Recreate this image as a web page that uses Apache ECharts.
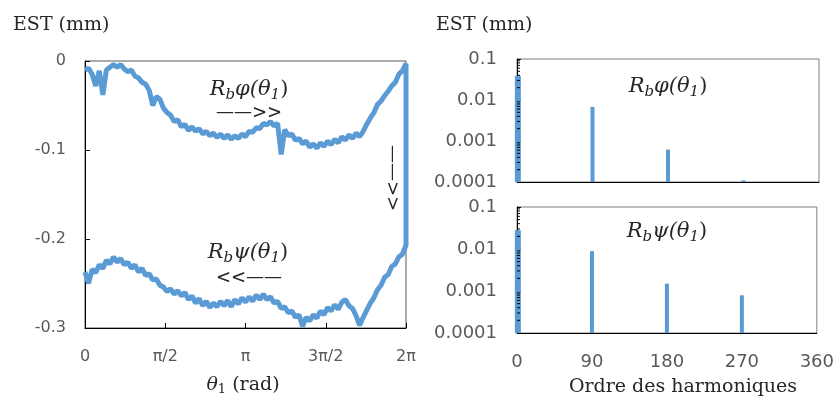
<!DOCTYPE html>
<html><head><meta charset="utf-8">
<script src="https://cdn.jsdelivr.net/npm/echarts@6/dist/echarts.min.js"></script>
<style>html,body{margin:0;padding:0;background:#fff}#c{width:837px;height:401px}</style>
</head><body><div id="c"></div>
<script>
// ---- data ----
const thetaStepDeg = 4; // sample spacing of the measured profiles (0 .. 360 deg = 0 .. 2π)
const phiValues = [
 -0.010,-0.008,-0.015,-0.028,-0.011,-0.038,-0.010,-0.007,-0.004,-0.007,
 -0.004,-0.009,-0.012,-0.010,-0.017,-0.019,-0.024,-0.026,-0.033,-0.050,
 -0.040,-0.043,-0.053,-0.058,-0.061,-0.068,-0.066,-0.074,-0.071,-0.078,
 -0.074,-0.079,-0.076,-0.082,-0.079,-0.084,-0.081,-0.086,-0.082,-0.087,
 -0.083,-0.088,-0.084,-0.087,-0.082,-0.085,-0.079,-0.080,-0.075,-0.076,
 -0.070,-0.072,-0.068,-0.073,-0.070,-0.105,-0.077,-0.084,-0.082,-0.089,
 -0.087,-0.093,-0.090,-0.097,-0.093,-0.098,-0.092,-0.096,-0.090,-0.094,
 -0.088,-0.092,-0.085,-0.089,-0.083,-0.087,-0.081,-0.085,-0.079,-0.071,
 -0.064,-0.058,-0.049,-0.045,-0.039,-0.034,-0.028,-0.024,-0.015,-0.011,
 -0.003
];
const psiValues = [
 -0.237,-0.250,-0.234,-0.238,-0.229,-0.233,-0.224,-0.228,-0.220,-0.226,
 -0.222,-0.229,-0.226,-0.233,-0.229,-0.237,-0.233,-0.241,-0.239,-0.246,
 -0.245,-0.252,-0.254,-0.259,-0.256,-0.262,-0.258,-0.264,-0.260,-0.268,
 -0.264,-0.272,-0.267,-0.275,-0.270,-0.277,-0.272,-0.276,-0.270,-0.275,
 -0.269,-0.276,-0.268,-0.273,-0.266,-0.271,-0.265,-0.270,-0.263,-0.268,
 -0.262,-0.268,-0.265,-0.272,-0.270,-0.278,-0.276,-0.283,-0.281,-0.288,
 -0.285,-0.298,-0.288,-0.292,-0.285,-0.289,-0.281,-0.285,-0.277,-0.281,
 -0.274,-0.279,-0.271,-0.268,-0.275,-0.278,-0.286,-0.297,-0.288,-0.280,
 -0.272,-0.266,-0.257,-0.252,-0.243,-0.240,-0.231,-0.228,-0.220,-0.217,
 -0.207
];
const thetaTickLabels = ['0', 'π/2', 'π', '3π/2', '2π'];
const harmonics = [1, 90, 180, 270];
const phiSpectrum = [0.039, 0.0068, 0.00062, 0.00011];
const psiSpectrum = [0.028, 0.0089, 0.0015, 0.00079];
const logTickLabels = { 0.0001: '0.0001', 0.001: '0.001', 0.01: '0.01', 0.1: '0.1' };
const logMinorTicks = [0.0002,0.0003,0.0004,0.0005,0.0006,0.0007,0.0008,0.0009,
  0.002,0.003,0.004,0.005,0.006,0.007,0.008,0.009,
  0.02,0.03,0.04,0.05,0.06,0.07,0.08,0.09];

// ---- build ----
const curve = [];
phiValues.forEach((v, i) => curve.push([i * thetaStepDeg, v]));
for (let i = psiValues.length - 1; i >= 0; i--) curve.push([i * thetaStepDeg, psiValues[i]]);

const BLUE = '#5B9BD5';
const GRAY = '#595959';
const TXT = '#262626';
const LOGMIN = 0.0001;

function specData(h, v) { return h.map((x, i) => [x, v[i]]); }

function barRender(params, api) {
  const x = api.value(0), v = api.value(1);
  const top = api.coord([x, v]);
  const bot = api.coord([x, LOGMIN]);
  const w = x < 10 ? 6 : 4;
  return { type: 'rect', shape: { x: top[0] - w / 2, y: top[1], width: w, height: bot[1] - top[1] }, style: { fill: BLUE } };
}
function minorRender(params, api) {
  const p = api.coord([0, api.value(0)]);
  return { type: 'line', shape: { x1: p[0], y1: p[1], x2: p[0] + 3, y2: p[1] }, style: { stroke: '#000', lineWidth: 1 } };
}

const logYAxis = (gi) => ({
  type: 'log', gridIndex: gi, logBase: 10, min: 0.0001, max: 0.1,
  axisLine: { show: true, lineStyle: { color: '#000', width: 1 } },
  axisTick: { show: true, inside: true, length: 4, lineStyle: { color: '#000' } },
  splitLine: { show: false },
  axisLabel: { color: GRAY, fontSize: 18, fontFamily: 'DejaVu Sans', margin: 20,
    formatter: v => logTickLabels[v] || String(v) }
});

const mathRich = {
  i: { fontFamily: 'DejaVu Serif', fontStyle: 'italic', fontSize: 21, fill: TXT, color: TXT },
  s: { fontFamily: 'DejaVu Serif', fontStyle: 'italic', fontSize: 15, fill: TXT, color: TXT, verticalAlign: 'bottom', padding: [10, 0, 0, 0] },
  n: { fontFamily: 'DejaVu Serif', fontSize: 21, fill: TXT, color: TXT }
};
function mathLabel(symbol, cx, cy) {
  return { type: 'text', x: cx, y: cy, style: {
    text: '{i|R}{s|b}{i|' + symbol + '(θ}{s|1}{n|)}', rich: mathRich,
    textAlign: 'center', textVerticalAlign: 'middle', fill: TXT } };
}
function plainText(t, x, y, size, align, extra) {
  return Object.assign({ type: 'text', x: x, y: y, style: { text: t, font: size + 'px "DejaVu Serif"', fill: TXT,
    textAlign: align || 'left', textVerticalAlign: 'middle' } }, extra || {});
}

const option = {
  animation: false,
  backgroundColor: '#fff',
  grid: [
    { left: 85, top: 61, width: 321, height: 267, show: true, borderColor: '#595959', borderWidth: 1 },
    { left: 517, top: 59, width: 302, height: 123, show: true, borderColor: '#7f7f7f', borderWidth: 1 },
    { left: 517, top: 207, width: 302, height: 126, show: true, borderColor: '#7f7f7f', borderWidth: 1 }
  ],
  xAxis: [
    { type: 'value', gridIndex: 0, min: 0, max: 360, interval: 90,
      axisLine: { show: true, onZero: false, lineStyle: { color: '#000' } },
      axisTick: { show: true, inside: true, length: 5, lineStyle: { color: '#000' } },
      splitLine: { show: false },
      axisLabel: { color: GRAY, fontSize: 16, fontFamily: 'DejaVu Sans', margin: 21,
        formatter: v => thetaTickLabels[Math.round(v / 90)] } },
    { type: 'value', gridIndex: 1, min: 0, max: 360, interval: 90,
      axisLine: { show: true, onZero: false, lineStyle: { color: '#000' } },
      axisTick: { show: false }, splitLine: { show: false }, axisLabel: { show: false } },
    { type: 'value', gridIndex: 2, min: 0, max: 360, interval: 90,
      axisLine: { show: true, onZero: false, lineStyle: { color: '#000' } },
      axisTick: { show: false }, splitLine: { show: false },
      axisLabel: { color: GRAY, fontSize: 18, fontFamily: 'DejaVu Sans', margin: 20 } }
  ],
  yAxis: [
    { type: 'value', gridIndex: 0, min: -0.3, max: 0, interval: 0.1,
      axisLine: { show: true, onZero: false, lineStyle: { color: '#000' } },
      axisTick: { show: true, inside: true, length: 5, lineStyle: { color: '#000' } },
      splitLine: { show: false },
      axisLabel: { color: GRAY, fontSize: 16, fontFamily: 'DejaVu Sans', margin: 19,
        formatter: v => (Math.abs(v) < 1e-9 ? '0' : v.toFixed(1)) } },
    logYAxis(1),
    logYAxis(2)
  ],
  series: [
    { type: 'line', xAxisIndex: 0, yAxisIndex: 0, data: curve, showSymbol: false, symbol: 'none',
      lineStyle: { color: BLUE, width: 5 }, itemStyle: { color: BLUE } },
    { type: 'custom', xAxisIndex: 1, yAxisIndex: 1, data: specData(harmonics, phiSpectrum), renderItem: barRender, clip: false },
    { type: 'custom', xAxisIndex: 2, yAxisIndex: 2, data: specData(harmonics, psiSpectrum), renderItem: barRender, clip: false },
    { type: 'custom', xAxisIndex: 1, yAxisIndex: 1, data: logMinorTicks.map(v => [v]), renderItem: minorRender, clip: false, z: 5 },
    { type: 'custom', xAxisIndex: 2, yAxisIndex: 2, data: logMinorTicks.map(v => [v]), renderItem: minorRender, clip: false, z: 5 }
  ],
  graphic: [
    plainText('EST (mm)', 13, 25, 19),
    plainText('EST (mm)', 436, 25, 19),
    { type: 'text', x: 243, y: 385, style: {
      text: '{i|θ}{s|1}{n| (rad)}', textAlign: 'center', textVerticalAlign: 'middle',
      rich: {
        i: { fontFamily: 'DejaVu Serif', fontStyle: 'italic', fontSize: 19, fill: TXT },
        s: { fontFamily: 'DejaVu Serif', fontSize: 13, fill: TXT, verticalAlign: 'bottom', padding: [9, 0, 0, 0] },
        n: { fontFamily: 'DejaVu Serif', fontSize: 19, fill: TXT }
      } } },
    plainText('Ordre des harmoniques', 683, 387, 19, 'center'),
    mathLabel('φ', 249, 90),
    mathLabel('ψ', 248, 253),
    mathLabel('φ', 668, 87),
    mathLabel('ψ', 667, 232),
    plainText('——>>', 249, 113, 18, 'center'),
    plainText('<<——', 249, 278, 18, 'center'),
    plainText('——>>', 392, 178, 18, 'center', { rotation: -Math.PI / 2 })
  ]
};

const chart = echarts.init(document.getElementById('c'), null, { renderer: 'canvas' });
chart.setOption(option);
</script>
</body></html>
